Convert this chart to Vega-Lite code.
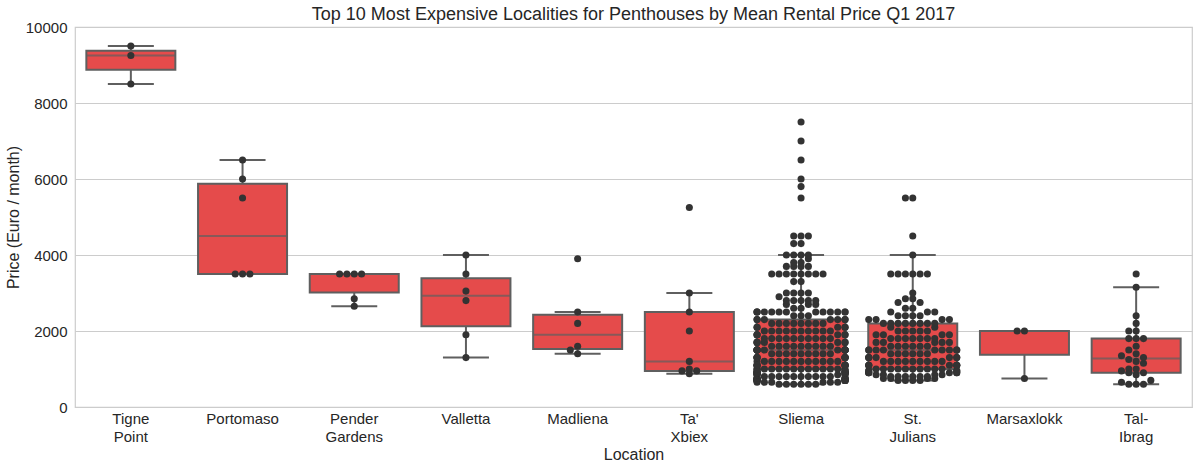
{
"$schema":"https://vega.github.io/schema/vega-lite/v6.json",
"width":1117,"height":380,
"autosize":{"type":"none"},
"padding":{"left":75,"top":27,"right":6,"bottom":63},
"background":"white",
"title":{"text":"Top 10 Most Expensive Localities for Penthouses by Mean Rental Price Q1 2017","fontSize":18,"font":"Liberation Sans","fontWeight":"normal","color":"#262626","offset":-4},
"config":{"view":{"stroke":"#cccccc","strokeWidth":1.2},"font":"Liberation Sans",
"axis":{"labelFont":"Liberation Sans","titleFont":"Liberation Sans","labelColor":"#262626","titleColor":"#262626","titleFontWeight":"normal","labelFontSize":15,"titleFontSize":16,"ticks":false,"domain":false}},
"data":{"values":[
{"location":"Tigne Point","price":8500},{"location":"Tigne Point","price":9250},{"location":"Tigne Point","price":9500},
{"location":"Portomaso","price":3500},{"location":"Portomaso","price":3500},{"location":"Portomaso","price":3500},{"location":"Portomaso","price":5500},{"location":"Portomaso","price":6000},{"location":"Portomaso","price":6500},
{"location":"Pender Gardens","price":2650},{"location":"Pender Gardens","price":2850},{"location":"Pender Gardens","price":3500},{"location":"Pender Gardens","price":3500},{"location":"Pender Gardens","price":3500},{"location":"Pender Gardens","price":3500},
{"location":"Valletta","price":1300},{"location":"Valletta","price":1900},{"location":"Valletta","price":2800},{"location":"Valletta","price":3050},{"location":"Valletta","price":3500},{"location":"Valletta","price":4000},
{"location":"Madliena","price":1400},{"location":"Madliena","price":1500},{"location":"Madliena","price":1600},{"location":"Madliena","price":2200},{"location":"Madliena","price":2500},{"location":"Madliena","price":3900},
{"location":"Ta' Xbiex","price":875},{"location":"Ta' Xbiex","price":950},{"location":"Ta' Xbiex","price":950},{"location":"Ta' Xbiex","price":1000},{"location":"Ta' Xbiex","price":1200},{"location":"Ta' Xbiex","price":2000},{"location":"Ta' Xbiex","price":2500},{"location":"Ta' Xbiex","price":3000},{"location":"Ta' Xbiex","price":5250},
{"location":"Sliema","price":600},{"location":"Sliema","price":600},{"location":"Sliema","price":600},{"location":"Sliema","price":600},{"location":"Sliema","price":600},{"location":"Sliema","price":600},
{"location":"Sliema","price":650},{"location":"Sliema","price":650},{"location":"Sliema","price":650},{"location":"Sliema","price":650},{"location":"Sliema","price":650},{"location":"Sliema","price":650},
{"location":"Sliema","price":700},{"location":"Sliema","price":700},{"location":"Sliema","price":700},{"location":"Sliema","price":700},{"location":"Sliema","price":700},{"location":"Sliema","price":700},{"location":"Sliema","price":700},{"location":"Sliema","price":700},{"location":"Sliema","price":700},{"location":"Sliema","price":700},
{"location":"Sliema","price":750},{"location":"Sliema","price":750},{"location":"Sliema","price":750},{"location":"Sliema","price":750},{"location":"Sliema","price":750},{"location":"Sliema","price":750},{"location":"Sliema","price":750},{"location":"Sliema","price":750},
{"location":"Sliema","price":800},{"location":"Sliema","price":800},{"location":"Sliema","price":800},{"location":"Sliema","price":800},{"location":"Sliema","price":800},{"location":"Sliema","price":800},{"location":"Sliema","price":800},{"location":"Sliema","price":800},{"location":"Sliema","price":800},{"location":"Sliema","price":800},
{"location":"Sliema","price":850},{"location":"Sliema","price":850},{"location":"Sliema","price":850},{"location":"Sliema","price":850},{"location":"Sliema","price":850},{"location":"Sliema","price":850},
{"location":"Sliema","price":900},{"location":"Sliema","price":900},{"location":"Sliema","price":900},{"location":"Sliema","price":900},{"location":"Sliema","price":900},{"location":"Sliema","price":900},{"location":"Sliema","price":900},{"location":"Sliema","price":900},{"location":"Sliema","price":900},{"location":"Sliema","price":900},
{"location":"Sliema","price":950},{"location":"Sliema","price":950},{"location":"Sliema","price":950},{"location":"Sliema","price":950},{"location":"Sliema","price":950},
{"location":"Sliema","price":1000},{"location":"Sliema","price":1000},{"location":"Sliema","price":1000},{"location":"Sliema","price":1000},{"location":"Sliema","price":1000},{"location":"Sliema","price":1000},{"location":"Sliema","price":1000},{"location":"Sliema","price":1000},{"location":"Sliema","price":1000},{"location":"Sliema","price":1000},{"location":"Sliema","price":1000},{"location":"Sliema","price":1000},{"location":"Sliema","price":1000},{"location":"Sliema","price":1000},
{"location":"Sliema","price":1100},{"location":"Sliema","price":1100},{"location":"Sliema","price":1100},{"location":"Sliema","price":1100},{"location":"Sliema","price":1100},{"location":"Sliema","price":1100},{"location":"Sliema","price":1100},{"location":"Sliema","price":1100},{"location":"Sliema","price":1100},
{"location":"Sliema","price":1200},{"location":"Sliema","price":1200},{"location":"Sliema","price":1200},{"location":"Sliema","price":1200},{"location":"Sliema","price":1200},{"location":"Sliema","price":1200},{"location":"Sliema","price":1200},{"location":"Sliema","price":1200},{"location":"Sliema","price":1200},{"location":"Sliema","price":1200},{"location":"Sliema","price":1200},{"location":"Sliema","price":1200},
{"location":"Sliema","price":1300},{"location":"Sliema","price":1300},{"location":"Sliema","price":1300},{"location":"Sliema","price":1300},{"location":"Sliema","price":1300},{"location":"Sliema","price":1300},{"location":"Sliema","price":1300},{"location":"Sliema","price":1300},{"location":"Sliema","price":1300},
{"location":"Sliema","price":1400},{"location":"Sliema","price":1400},{"location":"Sliema","price":1400},{"location":"Sliema","price":1400},{"location":"Sliema","price":1400},{"location":"Sliema","price":1400},{"location":"Sliema","price":1400},{"location":"Sliema","price":1400},{"location":"Sliema","price":1400},
{"location":"Sliema","price":1500},{"location":"Sliema","price":1500},{"location":"Sliema","price":1500},{"location":"Sliema","price":1500},{"location":"Sliema","price":1500},{"location":"Sliema","price":1500},{"location":"Sliema","price":1500},{"location":"Sliema","price":1500},{"location":"Sliema","price":1500},{"location":"Sliema","price":1500},{"location":"Sliema","price":1500},{"location":"Sliema","price":1500},{"location":"Sliema","price":1500},{"location":"Sliema","price":1500},
{"location":"Sliema","price":1600},{"location":"Sliema","price":1600},{"location":"Sliema","price":1600},{"location":"Sliema","price":1600},{"location":"Sliema","price":1600},{"location":"Sliema","price":1600},{"location":"Sliema","price":1600},{"location":"Sliema","price":1600},{"location":"Sliema","price":1600},
{"location":"Sliema","price":1700},{"location":"Sliema","price":1700},{"location":"Sliema","price":1700},{"location":"Sliema","price":1700},{"location":"Sliema","price":1700},{"location":"Sliema","price":1700},{"location":"Sliema","price":1700},
{"location":"Sliema","price":1800},{"location":"Sliema","price":1800},{"location":"Sliema","price":1800},{"location":"Sliema","price":1800},{"location":"Sliema","price":1800},{"location":"Sliema","price":1800},{"location":"Sliema","price":1800},{"location":"Sliema","price":1800},{"location":"Sliema","price":1800},{"location":"Sliema","price":1800},
{"location":"Sliema","price":1900},{"location":"Sliema","price":1900},{"location":"Sliema","price":1900},{"location":"Sliema","price":1900},{"location":"Sliema","price":1900},{"location":"Sliema","price":1900},
{"location":"Sliema","price":2000},{"location":"Sliema","price":2000},{"location":"Sliema","price":2000},{"location":"Sliema","price":2000},{"location":"Sliema","price":2000},{"location":"Sliema","price":2000},{"location":"Sliema","price":2000},{"location":"Sliema","price":2000},{"location":"Sliema","price":2000},{"location":"Sliema","price":2000},
{"location":"Sliema","price":2100},{"location":"Sliema","price":2100},{"location":"Sliema","price":2100},{"location":"Sliema","price":2100},{"location":"Sliema","price":2100},
{"location":"Sliema","price":2200},{"location":"Sliema","price":2200},{"location":"Sliema","price":2200},{"location":"Sliema","price":2200},{"location":"Sliema","price":2200},{"location":"Sliema","price":2200},{"location":"Sliema","price":2200},{"location":"Sliema","price":2200},
{"location":"Sliema","price":2300},{"location":"Sliema","price":2300},{"location":"Sliema","price":2300},{"location":"Sliema","price":2300},{"location":"Sliema","price":2300},{"location":"Sliema","price":2300},{"location":"Sliema","price":2300},
{"location":"Sliema","price":2400},{"location":"Sliema","price":2400},{"location":"Sliema","price":2400},
{"location":"Sliema","price":2500},{"location":"Sliema","price":2500},{"location":"Sliema","price":2500},{"location":"Sliema","price":2500},{"location":"Sliema","price":2500},{"location":"Sliema","price":2500},{"location":"Sliema","price":2500},{"location":"Sliema","price":2500},{"location":"Sliema","price":2500},{"location":"Sliema","price":2500},{"location":"Sliema","price":2500},{"location":"Sliema","price":2500},{"location":"Sliema","price":2500},
{"location":"Sliema","price":2600},{"location":"Sliema","price":2600},
{"location":"Sliema","price":2700},{"location":"Sliema","price":2700},{"location":"Sliema","price":2700},
{"location":"Sliema","price":2800},{"location":"Sliema","price":2800},{"location":"Sliema","price":2800},{"location":"Sliema","price":2800},{"location":"Sliema","price":2800},
{"location":"Sliema","price":2900},
{"location":"Sliema","price":3000},{"location":"Sliema","price":3000},{"location":"Sliema","price":3000},{"location":"Sliema","price":3000},
{"location":"Sliema","price":3300},{"location":"Sliema","price":3300},
{"location":"Sliema","price":3500},{"location":"Sliema","price":3500},{"location":"Sliema","price":3500},{"location":"Sliema","price":3500},{"location":"Sliema","price":3500},{"location":"Sliema","price":3500},{"location":"Sliema","price":3500},{"location":"Sliema","price":3500},
{"location":"Sliema","price":3700},{"location":"Sliema","price":3700},{"location":"Sliema","price":3700},{"location":"Sliema","price":3700},
{"location":"Sliema","price":3800},{"location":"Sliema","price":3800},
{"location":"Sliema","price":3900},
{"location":"Sliema","price":4000},{"location":"Sliema","price":4000},{"location":"Sliema","price":4000},{"location":"Sliema","price":4000},
{"location":"Sliema","price":4300},{"location":"Sliema","price":4300},
{"location":"Sliema","price":4500},{"location":"Sliema","price":4500},{"location":"Sliema","price":4500},
{"location":"Sliema","price":5500},{"location":"Sliema","price":5800},{"location":"Sliema","price":6000},{"location":"Sliema","price":6500},{"location":"Sliema","price":7000},{"location":"Sliema","price":7500},
{"location":"St. Julians","price":700},{"location":"St. Julians","price":700},{"location":"St. Julians","price":700},{"location":"St. Julians","price":700},
{"location":"St. Julians","price":750},{"location":"St. Julians","price":750},{"location":"St. Julians","price":750},{"location":"St. Julians","price":750},
{"location":"St. Julians","price":800},{"location":"St. Julians","price":800},{"location":"St. Julians","price":800},{"location":"St. Julians","price":800},{"location":"St. Julians","price":800},{"location":"St. Julians","price":800},
{"location":"St. Julians","price":850},{"location":"St. Julians","price":850},{"location":"St. Julians","price":850},{"location":"St. Julians","price":850},
{"location":"St. Julians","price":900},{"location":"St. Julians","price":900},{"location":"St. Julians","price":900},{"location":"St. Julians","price":900},{"location":"St. Julians","price":900},{"location":"St. Julians","price":900},
{"location":"St. Julians","price":950},{"location":"St. Julians","price":950},{"location":"St. Julians","price":950},{"location":"St. Julians","price":950},
{"location":"St. Julians","price":1000},{"location":"St. Julians","price":1000},{"location":"St. Julians","price":1000},{"location":"St. Julians","price":1000},{"location":"St. Julians","price":1000},{"location":"St. Julians","price":1000},{"location":"St. Julians","price":1000},{"location":"St. Julians","price":1000},{"location":"St. Julians","price":1000},{"location":"St. Julians","price":1000},
{"location":"St. Julians","price":1100},{"location":"St. Julians","price":1100},{"location":"St. Julians","price":1100},{"location":"St. Julians","price":1100},{"location":"St. Julians","price":1100},{"location":"St. Julians","price":1100},{"location":"St. Julians","price":1100},
{"location":"St. Julians","price":1200},{"location":"St. Julians","price":1200},{"location":"St. Julians","price":1200},{"location":"St. Julians","price":1200},{"location":"St. Julians","price":1200},{"location":"St. Julians","price":1200},{"location":"St. Julians","price":1200},{"location":"St. Julians","price":1200},{"location":"St. Julians","price":1200},
{"location":"St. Julians","price":1300},{"location":"St. Julians","price":1300},{"location":"St. Julians","price":1300},{"location":"St. Julians","price":1300},{"location":"St. Julians","price":1300},{"location":"St. Julians","price":1300},{"location":"St. Julians","price":1300},
{"location":"St. Julians","price":1400},{"location":"St. Julians","price":1400},{"location":"St. Julians","price":1400},{"location":"St. Julians","price":1400},{"location":"St. Julians","price":1400},{"location":"St. Julians","price":1400},
{"location":"St. Julians","price":1500},{"location":"St. Julians","price":1500},{"location":"St. Julians","price":1500},{"location":"St. Julians","price":1500},{"location":"St. Julians","price":1500},{"location":"St. Julians","price":1500},{"location":"St. Julians","price":1500},{"location":"St. Julians","price":1500},{"location":"St. Julians","price":1500},
{"location":"St. Julians","price":1600},{"location":"St. Julians","price":1600},{"location":"St. Julians","price":1600},{"location":"St. Julians","price":1600},{"location":"St. Julians","price":1600},{"location":"St. Julians","price":1600},
{"location":"St. Julians","price":1700},{"location":"St. Julians","price":1700},{"location":"St. Julians","price":1700},{"location":"St. Julians","price":1700},{"location":"St. Julians","price":1700},
{"location":"St. Julians","price":1800},{"location":"St. Julians","price":1800},{"location":"St. Julians","price":1800},{"location":"St. Julians","price":1800},{"location":"St. Julians","price":1800},{"location":"St. Julians","price":1800},{"location":"St. Julians","price":1800},
{"location":"St. Julians","price":1900},{"location":"St. Julians","price":1900},{"location":"St. Julians","price":1900},{"location":"St. Julians","price":1900},
{"location":"St. Julians","price":2000},{"location":"St. Julians","price":2000},{"location":"St. Julians","price":2000},{"location":"St. Julians","price":2000},{"location":"St. Julians","price":2000},
{"location":"St. Julians","price":2100},{"location":"St. Julians","price":2100},
{"location":"St. Julians","price":2200},{"location":"St. Julians","price":2200},{"location":"St. Julians","price":2200},{"location":"St. Julians","price":2200},{"location":"St. Julians","price":2200},{"location":"St. Julians","price":2200},{"location":"St. Julians","price":2200},{"location":"St. Julians","price":2200},
{"location":"St. Julians","price":2300},{"location":"St. Julians","price":2300},{"location":"St. Julians","price":2300},{"location":"St. Julians","price":2300},
{"location":"St. Julians","price":2400},{"location":"St. Julians","price":2400},{"location":"St. Julians","price":2400},{"location":"St. Julians","price":2400},
{"location":"St. Julians","price":2500},{"location":"St. Julians","price":2500},{"location":"St. Julians","price":2500},
{"location":"St. Julians","price":2600},{"location":"St. Julians","price":2600},
{"location":"St. Julians","price":2750},{"location":"St. Julians","price":2750},
{"location":"St. Julians","price":2850},{"location":"St. Julians","price":2850},
{"location":"St. Julians","price":3000},
{"location":"St. Julians","price":3500},{"location":"St. Julians","price":3500},{"location":"St. Julians","price":3500},{"location":"St. Julians","price":3500},{"location":"St. Julians","price":3500},{"location":"St. Julians","price":3500},
{"location":"St. Julians","price":4000},{"location":"St. Julians","price":4500},{"location":"St. Julians","price":5500},{"location":"St. Julians","price":5500},
{"location":"Marsaxlokk","price":750},{"location":"Marsaxlokk","price":2000},{"location":"Marsaxlokk","price":2000},
{"location":"Tal-Ibrag","price":600},{"location":"Tal-Ibrag","price":600},{"location":"Tal-Ibrag","price":600},{"location":"Tal-Ibrag","price":650},{"location":"Tal-Ibrag","price":700},{"location":"Tal-Ibrag","price":850},{"location":"Tal-Ibrag","price":900},{"location":"Tal-Ibrag","price":900},{"location":"Tal-Ibrag","price":950},{"location":"Tal-Ibrag","price":1000},{"location":"Tal-Ibrag","price":1000},{"location":"Tal-Ibrag","price":1150},{"location":"Tal-Ibrag","price":1200},{"location":"Tal-Ibrag","price":1250},{"location":"Tal-Ibrag","price":1300},{"location":"Tal-Ibrag","price":1350},{"location":"Tal-Ibrag","price":1400},{"location":"Tal-Ibrag","price":1500},{"location":"Tal-Ibrag","price":1600},{"location":"Tal-Ibrag","price":1800},{"location":"Tal-Ibrag","price":1800},{"location":"Tal-Ibrag","price":1800},{"location":"Tal-Ibrag","price":2000},{"location":"Tal-Ibrag","price":2000},{"location":"Tal-Ibrag","price":2200},{"location":"Tal-Ibrag","price":2400},{"location":"Tal-Ibrag","price":3150},{"location":"Tal-Ibrag","price":3500}
]},
"layer":[
{"mark":{"type":"boxplot","extent":1.5,"outliers":false,"size":89,"color":"#e54b4b",
 "box":{"stroke":"#5f5f5f","strokeWidth":2},
 "median":{"color":"#5f5f5f","thickness":2},
 "rule":{"color":"#5f5f5f","strokeWidth":2},
 "ticks":{"color":"#5f5f5f","size":46,"thickness":2}},
 "encoding":{
  "x":{"field":"location","type":"nominal","sort":["Tigne Point","Portomaso","Pender Gardens","Valletta","Madliena","Ta' Xbiex","Sliema","St. Julians","Marsaxlokk","Tal-Ibrag"],"scale":{"paddingInner":0,"paddingOuter":0},"title":"Location",
   "axis":{"labelAngle":0,"labelPadding":4,"labelLineHeight":18,"titlePadding":2,"grid":false,"labelExpr":"datum.label == 'Tal-Ibrag' ? ['Tal-', 'Ibrag'] : split(datum.label, ' ')"}},
  "y":{"field":"price","type":"quantitative","scale":{"domain":[0,10000],"nice":false},"title":"Price (Euro / month)",
   "axis":{"values":[0,2000,4000,6000,8000,10000],"format":"d","labelPadding":8,"titlePadding":4,"gridColor":"#cccccc","gridWidth":1.2}}
 }},
{"transform":[
  {"bin":{"step":200},"field":"price","as":"price_row"},
  {"window":[{"op":"row_number","as":"k"}],"groupby":["location","price_row"],"sort":[{"field":"price","order":"ascending"}]},
  {"calculate":"(datum.k % 2 == 0 ? -1 : 1) * floor(datum.k / 2)","as":"slot"}
 ],
 "mark":{"type":"circle","size":50,"color":"#333333","opacity":1},
 "encoding":{
  "x":{"field":"location","type":"nominal","sort":["Tigne Point","Portomaso","Pender Gardens","Valletta","Madliena","Ta' Xbiex","Sliema","St. Julians","Marsaxlokk","Tal-Ibrag"]},
  "xOffset":{"field":"slot","type":"quantitative","scale":{"domain":[-6,6],"range":[11.85,99.85],"clamp":true}},
  "y":{"field":"price","type":"quantitative"}
 }}
]
}
